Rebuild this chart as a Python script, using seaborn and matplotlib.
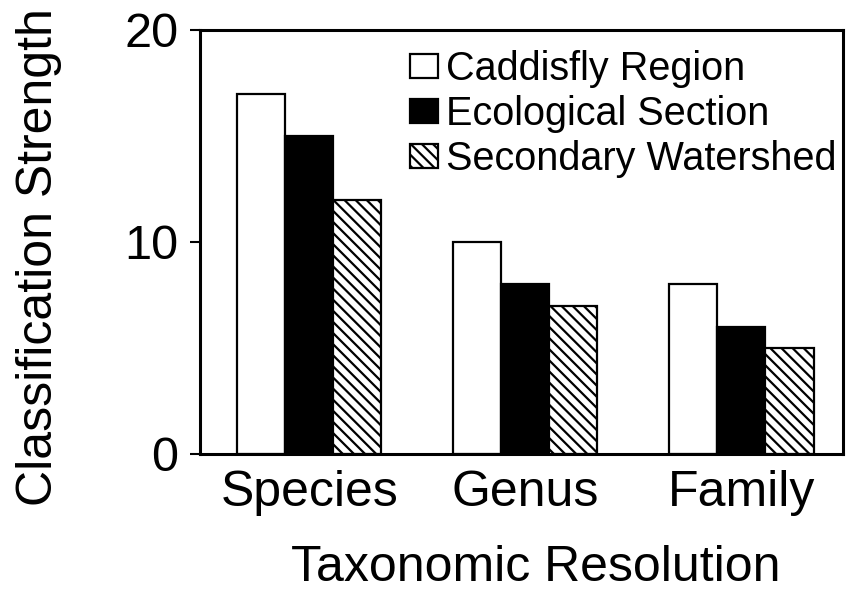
import matplotlib
matplotlib.use("Agg")
import matplotlib.pyplot as plt
import pandas as pd
import seaborn as sns

# ── data ─────────────────────────────────────────────────────────────────
levels = ["Species", "Genus", "Family"]
groups = ["Caddisfly Region", "Ecological Section", "Secondary Watershed"]
caddisfly = [17, 10, 8]
ecological = [15, 8, 6]
watershed = [12, 7, 5]

df = pd.DataFrame({
    "level": levels * 3,
    "group": [groups[0]] * 3 + [groups[1]] * 3 + [groups[2]] * 3,
    "value": caddisfly + ecological + watershed,
})

sns.set_style("white")
plt.rcParams["font.family"] = ["Liberation Sans", "DejaVu Sans"]
plt.rcParams["hatch.linewidth"] = 1.6
for k in ["text.color", "axes.labelcolor", "xtick.color", "ytick.color"]:
    plt.rcParams[k] = "black"

fig = plt.figure(figsize=(8.46, 5.94), dpi=100)
ax = fig.add_axes([0.2364, 0.2357, 0.7601, 0.7138])

sns.barplot(data=df, x="level", y="value", hue="group", order=levels,
            hue_order=groups, palette=["white", "black", "white"],
            width=0.667, gap=0, edgecolor="black", linewidth=1.6,
            saturation=1, legend=False, ax=ax)

# hatch the third series
for p in ax.containers[2].patches:
    p.set_hatch("\\" * 3)

ax.set_ylim(0, 20)
ax.set_xlim(-0.505, 2.47)
ax.set_yticks([0, 10, 20])
ax.tick_params(axis="y", left=True, length=7.2, width=1.5, labelsize=35, pad=8.5)
ax.tick_params(axis="x", bottom=False, labelsize=36, pad=8)
for s in ax.spines.values():
    s.set_visible(True)
    s.set_linewidth(2.2)
    s.set_color("black")

ax.set_xlabel("Taxonomic Resolution", fontsize=36)
ax.xaxis.set_label_coords(0.522, -0.214)
ax.set_ylabel("Classification Strength", fontsize=36)
ax.yaxis.set_label_coords(-0.214, 0.465)

ax.legend(ax.containers, groups, loc="upper right", frameon=False,
          fontsize=28.5, handlelength=0.7, handleheight=0.55,
          handletextpad=0.2, labelspacing=0.18, borderpad=0,
          borderaxespad=0, bbox_to_anchor=(0.9893, 0.953))

fig.savefig("out.png", dpi=100)
